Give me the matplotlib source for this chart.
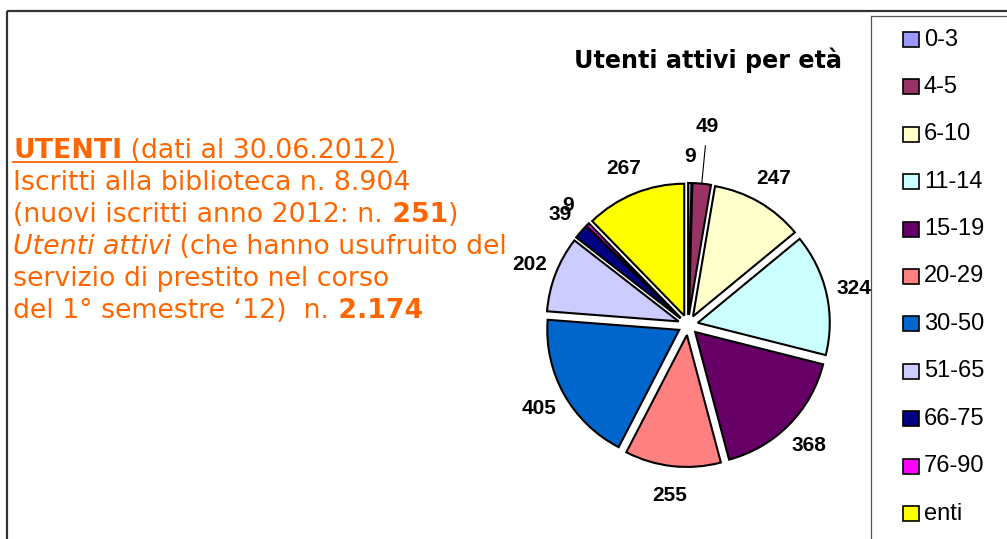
import matplotlib
matplotlib.use('Agg')
import matplotlib.pyplot as plt
import numpy as np
from matplotlib.patches import Rectangle

# ---------------- data ----------------
categories = ['0-3', '4-5', '6-10', '11-14', '15-19', '20-29', '30-50',
              '51-65', '66-75', '76-90', 'enti']
values = [9, 49, 247, 324, 368, 255, 405, 202, 39, 9, 267]
colors = ['#9999FF', '#993366', '#FFFFCC', '#CCFFFF', '#660066', '#FF8080',
          '#0066CC', '#CCCCFF', '#000080', '#FF00FF', '#FFFF00']
title = 'Utenti attivi per età'
# left text block: list of lines, each a list of (text, weight, style)
text_lines = [
    [('UTENTI', 'bold', 'normal'), (' (dati al 30.06.2012)', 'normal', 'normal')],
    [('Iscritti alla biblioteca n. 8.904', 'normal', 'normal')],
    [('(nuovi iscritti anno 2012: n.', 'normal', 'normal'), (' 251', 'bold', 'normal'),
     (')', 'normal', 'normal')],
    [('Utenti attivi', 'normal', 'italic'), (' (che hanno usufruito del', 'normal', 'normal')],
    [('servizio di prestito nel corso', 'normal', 'normal')],
    [('del 1° semestre ‘12)  n.', 'normal', 'normal'), (' 2.174', 'bold', 'normal')],
]

# ---------------- figure ----------------
W, H = 1007, 539
fig = plt.figure(figsize=(W / 100, H / 100), dpi=100)
ax = fig.add_axes([0, 0, 1, 1])


def Y(yp):
    return H - yp


orange = '#FF6600'

# pie
cx, cy, R = 688, Y(325), 132
off = 10
ax.pie(values, colors=colors, startangle=90, counterclock=False,
       center=(cx, cy), radius=R, explode=[off] * len(values),
       wedgeprops=dict(edgecolor='black', linewidth=1.5))
ax.set_xlim(0, W)
ax.set_ylim(0, H)
ax.set_aspect('auto')
ax.axis('off')

# value labels
total = sum(values)
cum = np.concatenate([[0], np.cumsum(values)[:-1]])
label_r = 170
for i, v in enumerate(values):
    frac = (cum[i] + v / 2) / total
    ang = np.deg2rad(90 - 360 * frac)
    if v == 49:
        ax.plot([cx + (R + off + 1) * np.cos(ang), cx + 180 * np.cos(ang)],
                [cy + (R + off + 1) * np.sin(ang), cy + 180 * np.sin(ang)],
                color='black', lw=0.8)
        d = 200
    else:
        d = label_r
    ax.text(cx + d * np.cos(ang), cy + d * np.sin(ang) - 1, str(v),
            fontsize=15, fontweight='bold', family='Liberation Sans',
            ha='center', va='center')

# title
ax.text(707.5, Y(68), title, fontsize=17.2, fontweight='bold',
        family='DejaVu Sans', ha='center', va='baseline')

# left text block
renderer = fig.canvas.get_renderer()
base0, step = 158, 31.9
line1_end = None
for li, segs in enumerate(text_lines):
    x = 13
    yb = base0 + li * step
    for s, w, st in segs:
        t = ax.text(x, Y(yb), s, fontsize=19.3, fontweight=w, fontstyle=st,
                    color=orange, family='DejaVu Sans', ha='left', va='baseline')
        bb = t.get_window_extent(renderer)
        x = bb.x1
    if li == 0:
        line1_end = x
ax.plot([13, line1_end], [Y(161.5), Y(161.5)], color=orange, lw=1.3)

# legend
for i, (c, col) in enumerate(zip(categories, colors)):
    yc = 39.5 + i * 47.4
    ax.add_patch(Rectangle((902.5, Y(yc) - 7.5), 16, 15, facecolor=col,
                           edgecolor='black', lw=1.2))
    ax.text(924, Y(yc), c, fontsize=17, family='Liberation Sans',
            ha='left', va='center')

# frames
ax.plot([7, 7], [Y(11), 0], color='#333333', lw=1.6, clip_on=False,
        solid_capstyle='butt')
ax.plot([7, W], [Y(11), Y(11)], color='#333333', lw=1.6, clip_on=False,
        solid_capstyle='butt')
ax.plot([871, 871], [Y(16), 0], color='#555555', lw=0.9, clip_on=False)
ax.plot([871, W], [Y(16), Y(16)], color='#555555', lw=0.9, clip_on=False)

fig.savefig('out.png', dpi=100)
